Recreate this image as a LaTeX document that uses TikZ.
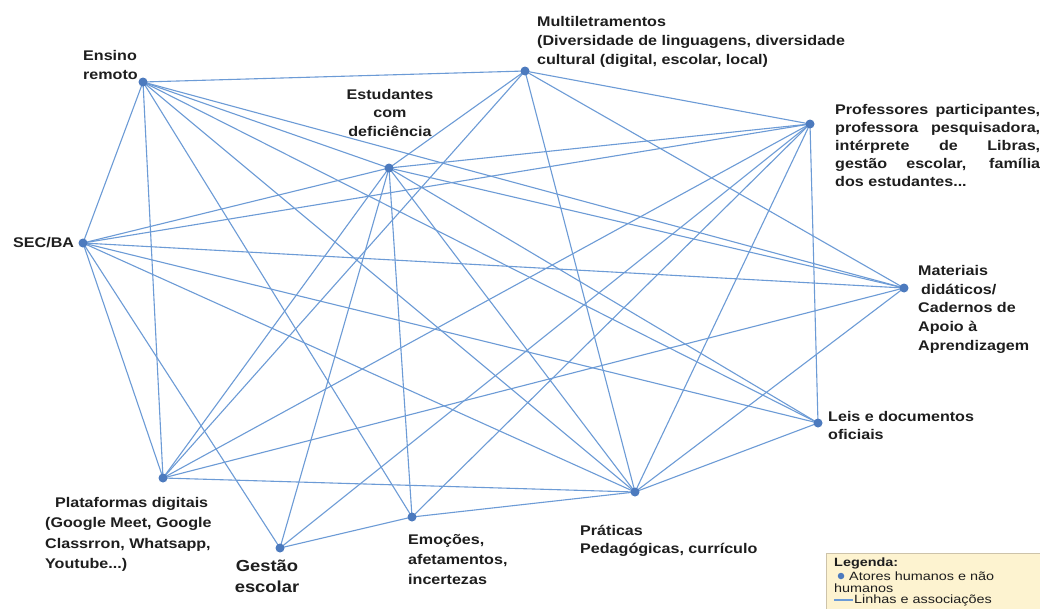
\documentclass[tikz,border=0pt]{standalone}
\usepackage{fontspec}
\setmainfont{Liberation Sans}
\newfontfamily\labfont[FakeStretch=1.15]{Liberation Sans}
\newfontfamily\legfont[FakeStretch=1.2]{Liberation Sans}
\usetikzlibrary{backgrounds}
\definecolor{linkc}{RGB}{108,155,214}
\definecolor{dotc}{RGB}{76,122,190}
\definecolor{txt}{RGB}{30,30,30}
\definecolor{legfill}{RGB}{253,243,208}
\definecolor{legdraw}{RGB}{205,195,170}
\tikzset{
  lk/.style={draw=linkc, line width=1.1pt},
  dot/.style={circle, fill=dotc, minimum size=9pt, inner sep=0pt},
  lab/.style={inner sep=0pt, text=txt, font=\labfont\bfseries\fontsize{14}{19}\selectfont},
  leg/.style={inner sep=0pt, text=txt, font=\legfont\fontsize{12}{13}\selectfont},
}
\begin{document}
\begin{tikzpicture}[x=1pt,y=-1pt]
\useasboundingbox (0,0) rectangle (1040,608);
\begin{scope}[on background layer]
\fill[white] (0,0) rectangle (1040,608);
\end{scope}
% actors
\node[dot] (ER) at (143,82) {};
\node[dot] (M)  at (525,71) {};
\node[dot] (E)  at (389,168) {};
\node[dot] (P)  at (810,124) {};
\node[dot] (S)  at (83,243) {};
\node[dot] (MD) at (904,288) {};
\node[dot] (L)  at (818,423) {};
\node[dot] (PD) at (163,478) {};
\node[dot] (G)  at (280,548) {};
\node[dot] (EM) at (412,517) {};
\node[dot] (PR) at (635,492) {};
% associations
\begin{scope}[on background layer]
\foreach \a/\b in {ER/M, ER/E, ER/S, ER/PD, ER/EM, ER/PR, ER/L, ER/MD,
  M/E, M/PD, M/PR, M/P, M/MD,
  E/S, E/P, E/MD, E/PD, E/G, E/EM, E/PR, E/L,
  P/S, P/PD, P/G, P/EM, P/PR, P/L,
  S/MD, S/L, S/PR, S/PD, S/G,
  MD/PD, MD/PR, L/PR, PD/PR, G/EM, EM/PR}
  \draw[lk] (\a.center) -- (\b.center);
\end{scope}
% labels
\node[lab, anchor=north west, align=left] (tER) at (83,50) {Ensino\\remoto};
\node[lab, anchor=north west, align=left] (tM) at (537,16) {Multiletramentos\\(Diversidade de linguagens, diversidade\\cultural (digital, escolar, local)};
\node[lab, anchor=north, align=center, font=\labfont\bfseries\fontsize{14}{18.5}\selectfont] (tE) at (390,89) {Estudantes\\com\\deficiência};
\node[lab, anchor=north west, align=left, font=\labfont\bfseries\fontsize{14}{18}\selectfont] (tP) at (835,104) {%
  \makebox[205pt][s]{Professores participantes,}\\
  \makebox[205pt][s]{professora pesquisadora,}\\
  \makebox[205pt][s]{intérprete de Libras,}\\
  \makebox[205pt][s]{gestão escolar, família}\\
  dos estudantes...};
\node[lab, anchor=west] (tS) at (13,243) {SEC/BA};
\node[lab, anchor=north west, align=left, font=\labfont\bfseries\fontsize{14}{18.7}\selectfont] (tMD) at (918,265) {Materiais\\\hspace{3pt}didáticos/\\Cadernos de\\Apoio à\\Aprendizagem};
\node[lab, anchor=north west, align=left, font=\labfont\bfseries\fontsize{14}{18}\selectfont] (tL) at (828,411) {Leis e documentos\\oficiais};
\node[lab, anchor=north west, align=left, font=\labfont\bfseries\fontsize{14}{20.5}\selectfont] (tPD) at (45,497) {\hspace{10pt}Plataformas digitais\\(Google Meet, Google\\Classrron, Whatsapp,\\Youtube...)};
\node[lab, anchor=north, align=center, font=\labfont\bfseries\fontsize{16}{21}\selectfont] (tG) at (267,560) {Gestão\\escolar};
\node[lab, anchor=north west, align=left, font=\labfont\bfseries\fontsize{14}{20}\selectfont] (tEM) at (408,534) {Emoções,\\afetamentos,\\incertezas};
\node[lab, anchor=north west, align=left, font=\labfont\bfseries\fontsize{14}{18}\selectfont] (tPR) at (580,525) {Práticas\\Pedagógicas, currículo};
% legend
\node[draw=legdraw, fill=legfill, line width=0.6pt, minimum width=216pt, minimum height=58pt, anchor=north west, inner sep=0pt] (legbox) at (826,553) {};
\node[leg, anchor=west, font=\legfont\bfseries\fontsize{12}{13}\selectfont] (legt) at (834,563) {Legenda:};
\node[circle, fill=dotc, minimum size=6.5pt, inner sep=0pt] (legdot) at (841,576) {};
\node[leg, anchor=west] (legt1) at (849,576) {Atores humanos e não};
\node[leg, anchor=west] (legt2) at (834,588.5) {humanos};
\coordinate (lla) at (834,600);
\coordinate (llb) at (853,600);
\draw[lk] (lla) -- (llb);
\node[leg, anchor=west] (legt3) at (854,600) {Linhas e associações};
\end{tikzpicture}
\end{document}
